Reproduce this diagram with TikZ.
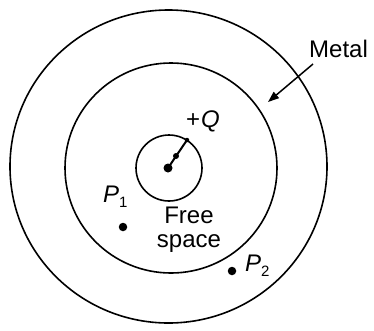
\documentclass[tikz,border=0pt]{standalone}
\usepackage{fontspec}
\setmainfont{Liberation Sans}
\usetikzlibrary{arrows.meta,shapes.geometric}
\begin{document}
\begin{tikzpicture}[x=1pt,y=-1pt,
  ring/.style={draw, ellipse, line width=1.6pt, inner sep=0pt},
  lbl/.style={font=\fontsize{24}{25}\selectfont, inner sep=0pt},
  dotc/.style={circle, fill, inner sep=0pt, minimum size=#1}]
\useasboundingbox (0,0) rectangle (374,330);
\node[ring, minimum width=317pt, minimum height=313pt] (outer) at (168.5,166.5) {};
\node[ring, minimum width=212pt, minimum height=210pt] (inner) at (171,168) {};
\node[ring, minimum width=66pt, minimum height=66pt] (small) at (169,168) {};
% charge
\node[dotc=9pt] (q) at (168,168) {};
\coordinate (qe) at (187,140);
\draw[line width=2pt] (q.center) -- (qe);
\node[dotc=6pt] (qm) at (176,156) {};
\node[dotc=4.5pt] (qd) at (qe) {};
\node[lbl] (Q) at (203,121) {+\kern1pt\textit{Q}};
% free space
\node[lbl, align=center, font=\fontsize{24}{24}\selectfont] (fs) at (189,230) {Free\\space};
% points
\node[dotc=8.5pt] (p1) at (123,227) {};
\node[lbl, anchor=base west] (p1l) at (103,202) {\textit{P}\raisebox{-5pt}{\fontsize{15}{15}\selectfont 1}};
\node[dotc=8.5pt] (p2) at (232,271) {};
\node[lbl, anchor=base west] (p2l) at (245,271) {\textit{P}\raisebox{-5pt}{\fontsize{15}{15}\selectfont 2}};
% metal
\node[lbl, anchor=base west] (metal) at (309,57) {Metal};
\coordinate (mt) at (313,64);
\coordinate (mh) at (268,102);
\draw[line width=1.5pt, -{Triangle[length=11pt,width=8pt]}] (mt) -- (mh);
\end{tikzpicture}
\end{document}
